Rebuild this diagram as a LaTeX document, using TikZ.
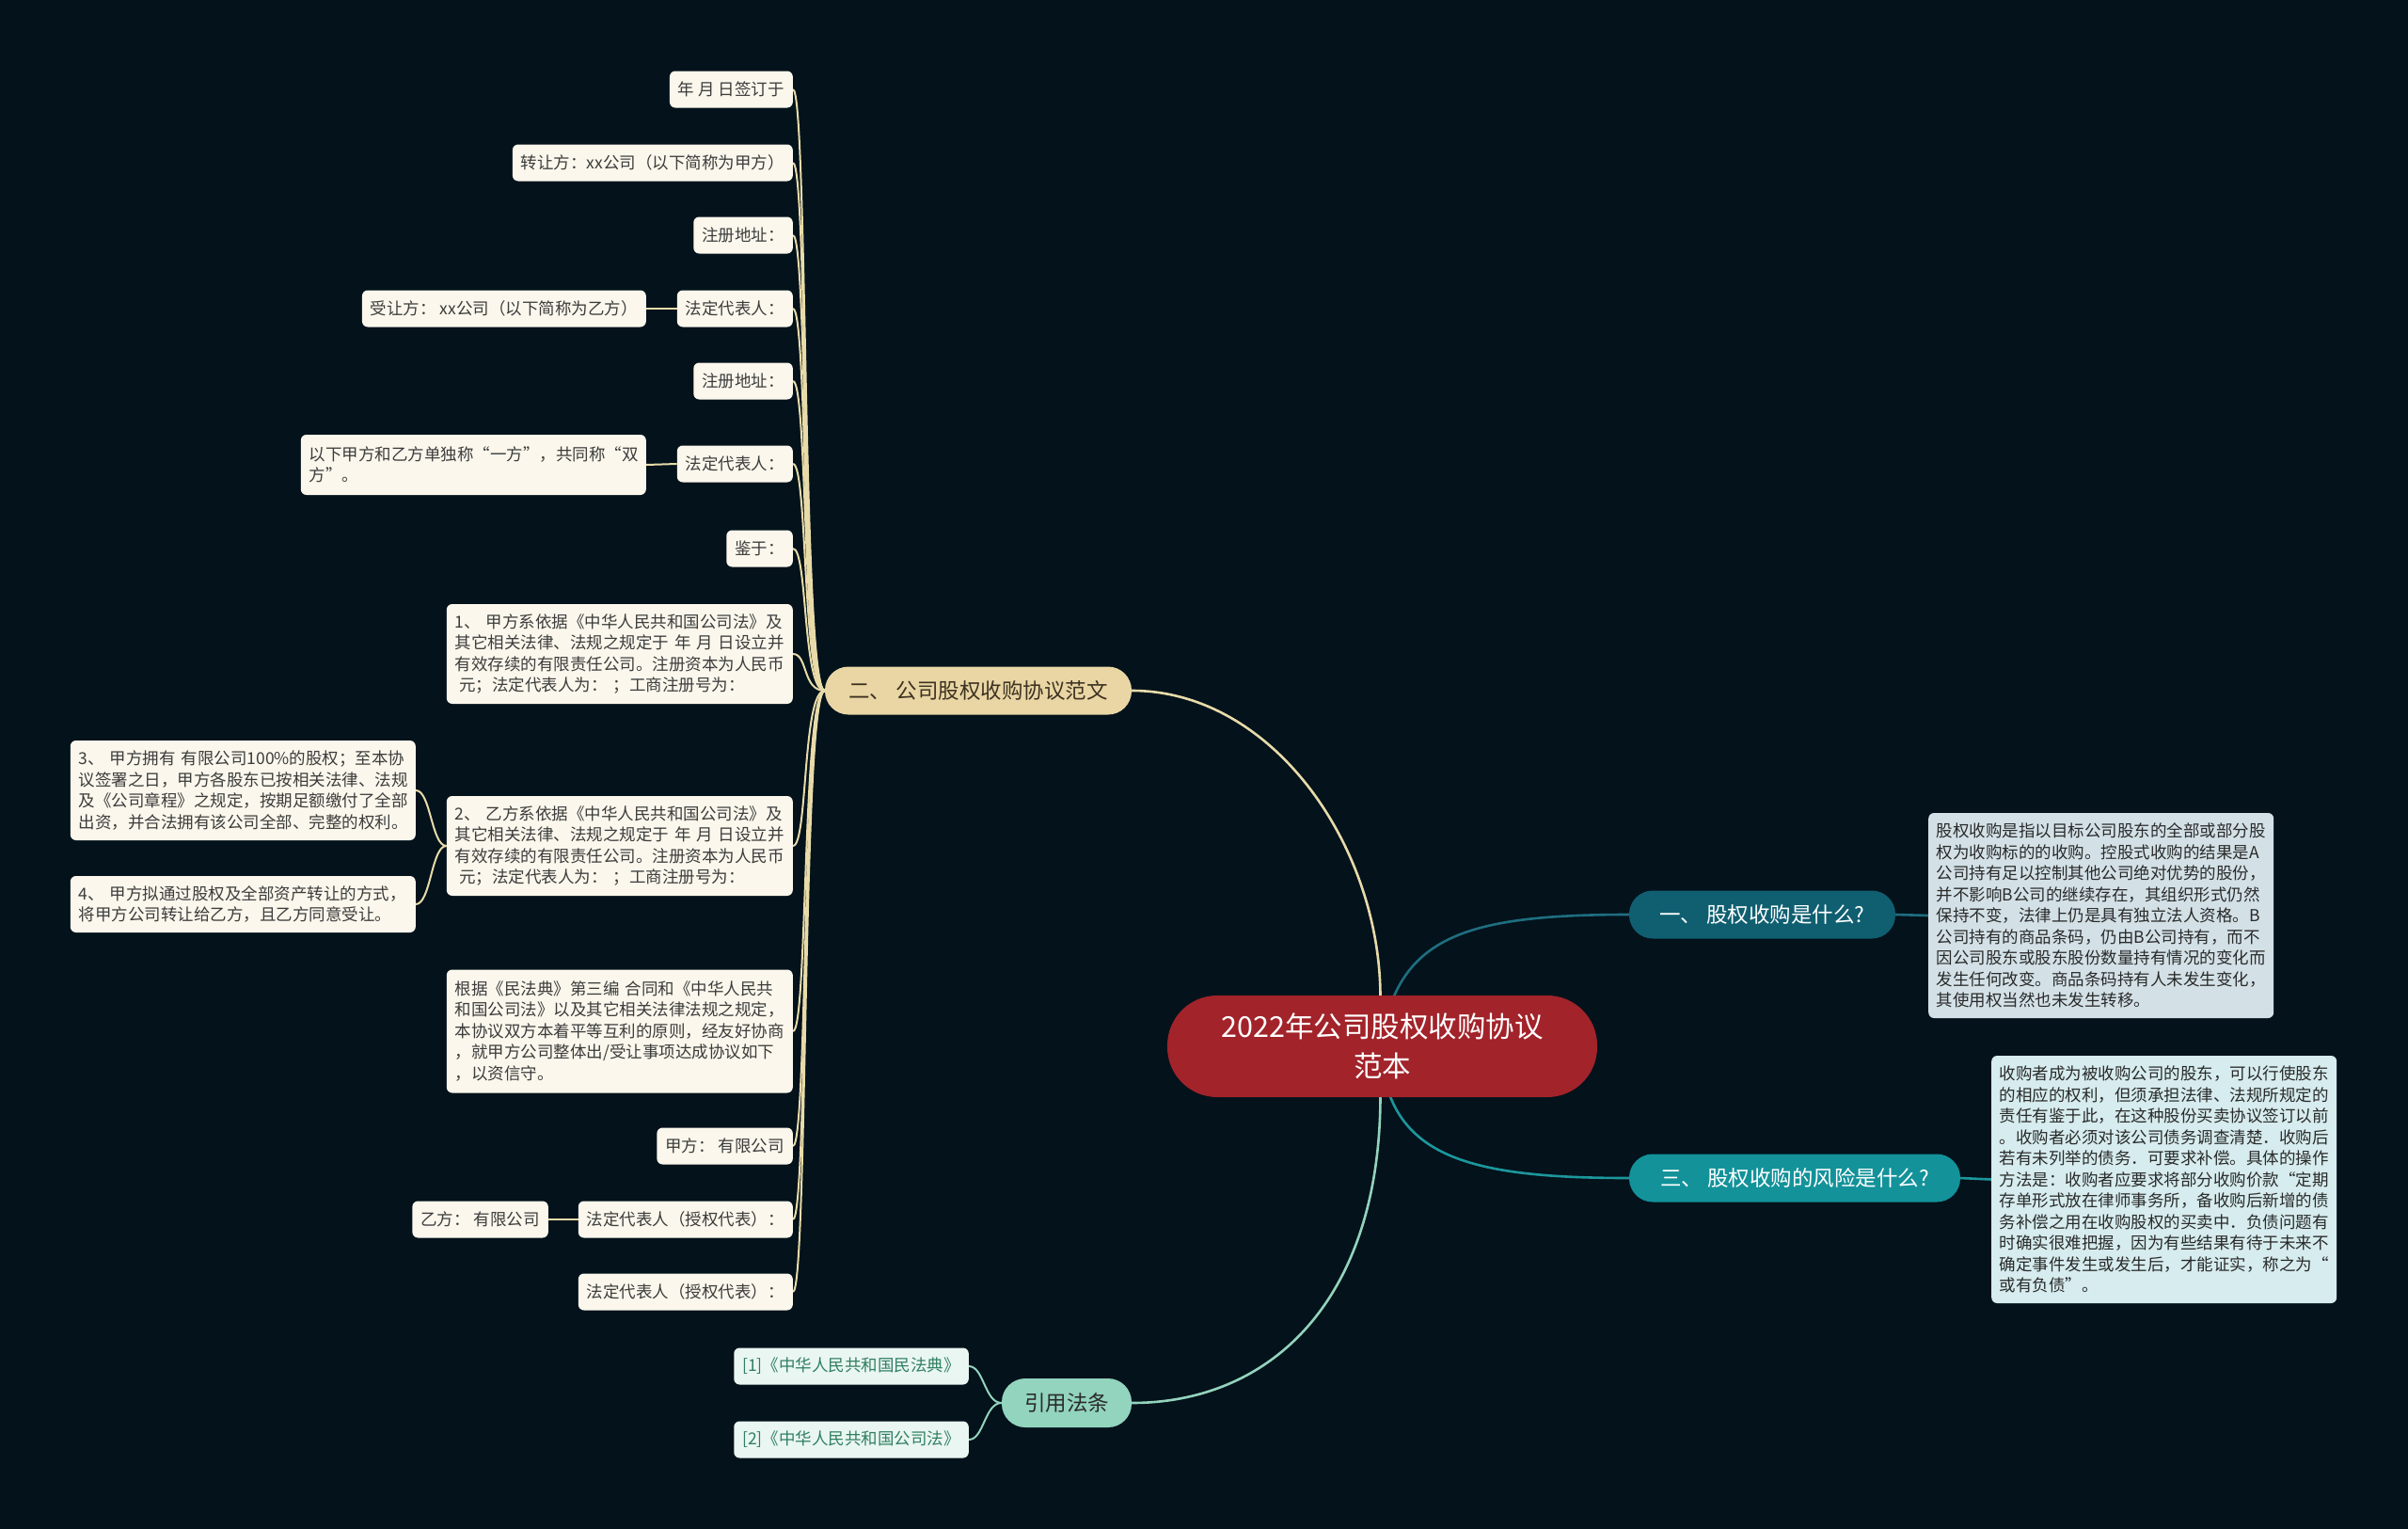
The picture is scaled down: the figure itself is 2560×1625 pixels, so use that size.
\documentclass[tikz,border=0pt]{standalone}
\usepackage{fontspec}
\setmainfont{Noto Sans CJK SC}
\usetikzlibrary{calc}
\definecolor{bgc}{HTML}{03121B}
\definecolor{cream}{HTML}{FBF7EC}
\definecolor{leaftxt}{HTML}{3C3C3C}
\definecolor{tanln}{HTML}{E8DBA9}
\definecolor{tanfill}{HTML}{E9D6A4}
\definecolor{btwotxt}{HTML}{3D3222}
\definecolor{cred}{HTML}{A2232A}
\definecolor{tonefill}{HTML}{0F5F71}
\definecolor{toneln}{HTML}{1F6E80}
\definecolor{tthreefill}{HTML}{13929A}
\definecolor{tthreeln}{HTML}{1C979C}
\definecolor{donefill}{HTML}{D3E1E7}
\definecolor{dthreefill}{HTML}{D6ECEE}
\definecolor{mintfill}{HTML}{92D4BD}
\definecolor{mintln}{HTML}{93D3BD}
\definecolor{reffill}{HTML}{EAF6F1}
\definecolor{reftxt}{HTML}{2F7F63}
\definecolor{dtxt}{HTML}{2A2A2A}
\pgfdeclarelayer{back}
\pgfdeclarelayer{lines}
\pgfsetlayers{back,lines,main}
\begin{document}
\begin{tikzpicture}[x=1pt,y=-1pt,
  leaf/.style={fill=cream, text=leaftxt, rounded corners=6, inner xsep=9, inner ysep=6,
    font=\fontsize{17.5}{22.5}\selectfont, align=left, minimum height=39},
  reftag/.style={leaf, fill=reffill, text=reftxt},
  desc/.style={rounded corners=6, inner xsep=8.5, inner ysep=6, text=dtxt,
    font=\fontsize{17.5}{22.5}\selectfont, align=left, text width=350},
  pillnode/.style={inner sep=0, align=center, font=\fontsize{22.5}{27}\selectfont,
    minimum height=51, rounded corners=25},
  tanmain/.style={draw=tanln, line width=2.6},
  tanleaf/.style={draw=tanln, line width=2},
  mintmain/.style={draw=mintln, line width=2.6},
  mintleaf/.style={draw=mintln, line width=2},
  tonemain/.style={draw=toneln, line width=2.6},
  tthreemain/.style={draw=tthreeln, line width=2.6}
]
\begin{pgfonlayer}{back}
\fill[bgc] (0,0) rectangle (2560,1625);
\end{pgfonlayer}
\useasboundingbox (0,0) rectangle (2560,1625);

% central node
\node[fill=cred, text=white, inner sep=0, align=center, minimum width=457, minimum height=108,
  rounded corners=53, font=\fontsize{30.5}{42}\selectfont] (c) at (1469.5,1112) {2022年公司股权收购协议\\范本};

% branches
\node[pillnode, fill=tanfill, text=btwotxt, minimum width=326] (b2) at (1040,734) {二、 公司股权收购协议范文};
\node[pillnode, fill=tonefill, text=white, minimum width=283] (b1) at (1873.5,972) {一、 股权收购是什么?};
\node[pillnode, fill=tthreefill, text=white, minimum width=352] (b3) at (1908,1252) {三、 股权收购的风险是什么?};
\node[pillnode, fill=mintfill, text=dtxt, minimum width=138, minimum height=52, rounded corners=25] (bref) at (1134,1491) {引用法条};

% descriptions on the right
\node[desc, fill=donefill, anchor=west, minimum height=218] (d1) at (2050,973) {股权收购是指以目标公司股东的全部或部分股\\权为收购标的的收购。控股式收购的结果是A\\公司持有足以控制其他公司绝对优势的股份，\\并不影响B公司的继续存在，其组织形式仍然\\保持不变，法律上仍是具有独立法人资格。B\\公司持有的商品条码，仍由B公司持有，而不\\因公司股东或股东股份数量持有情况的变化而\\发生任何改变。商品条码持有人未发生变化，\\其使用权当然也未发生转移。};
\node[desc, fill=dthreefill, anchor=west, minimum height=263] (d3) at (2117,1253.5) {收购者成为被收购公司的股东，可以行使股东\\的相应的权利，但须承担法律、法规所规定的\\责任有鉴于此，在这种股份买卖协议签订以前\\。收购者必须对该公司债务调查清楚．收购后\\若有未列举的债务．可要求补偿。具体的操作\\方法是：收购者应要求将部分收购价款“定期\\存单形式放在律师事务所，备收购后新增的债\\务补偿之用在收购股权的买卖中．负债问题有\\时确实很难把握，因为有些结果有待于未来不\\确定事件发生或发生后，才能证实，称之为“\\或有负债”。};

% references
\node[reftag, anchor=east] (r1) at (1030,1452) {[1]《中华人民共和国民法典》};
\node[reftag, anchor=east] (r2) at (1030,1530) {[2]《中华人民共和国公司法》};

% left leaves
\node[leaf, anchor=east] (n1) at (843,95) {年 月 日签订于};
\node[leaf, anchor=east] (n2) at (843,173) {转让方：xx公司（以下简称为甲方）};
\node[leaf, anchor=east] (n3) at (843,250) {注册地址：};
\node[leaf, anchor=east] (n4) at (843,328) {法定代表人：};
\node[leaf, anchor=east] (n4a) at (687,328) {受让方： xx公司（以下简称为乙方）};
\node[leaf, anchor=east] (n5) at (843,405) {注册地址：};
\node[leaf, anchor=east] (n6) at (843,493) {法定代表人：};
\node[leaf, anchor=east, text width=349, minimum height=64] (n6a) at (687,494) {以下甲方和乙方单独称“一方”，共同称“双\\方”。};
\node[leaf, anchor=east] (n7) at (843,583) {鉴于：};
\node[leaf, anchor=east, text width=350, minimum height=106] (n8) at (843,695) {1、 甲方系依据《中华人民共和国公司法》及\\其它相关法律、法规之规定于 年 月 日设立并\\有效存续的有限责任公司。注册资本为人民币\\\hspace*{0.25em}元；法定代表人为： ；工商注册号为：};
\node[leaf, anchor=east, text width=350, minimum height=106] (n9) at (843,899) {2、 乙方系依据《中华人民共和国公司法》及\\其它相关法律、法规之规定于 年 月 日设立并\\有效存续的有限责任公司。注册资本为人民币\\\hspace*{0.25em}元；法定代表人为： ；工商注册号为：};
\node[leaf, anchor=east, text width=349, minimum height=106] (n9a) at (442,840) {3、 甲方拥有 有限公司100\%的股权；至本协\\议签署之日，甲方各股东已按相关法律、法规\\及《公司章程》之规定，按期足额缴付了全部\\出资，并合法拥有该公司全部、完整的权利。};
\node[leaf, anchor=east, text width=349, minimum height=60] (n9b) at (442,961) {4、 甲方拟通过股权及全部资产转让的方式，\\将甲方公司转让给乙方，且乙方同意受让。};
\node[leaf, anchor=east, text width=350, minimum height=131] (n10) at (843,1096) {根据《民法典》第三编 合同和《中华人民共\\和国公司法》以及其它相关法律法规之规定，\\本协议双方本着平等互利的原则，经友好协商\\，就甲方公司整体出/受让事项达成协议如下\\，以资信守。};
\node[leaf, anchor=east] (n11) at (843,1218) {甲方：  有限公司};
\node[leaf, anchor=east] (n12) at (843,1296) {法定代表人（授权代表）：};
\node[leaf, anchor=east] (n12a) at (583,1296) {乙方：  有限公司};
\node[leaf, anchor=east] (n13) at (843,1373) {法定代表人（授权代表）：};

% connectors
\begin{pgfonlayer}{lines}
\draw[tanmain] ($(c.north)+(-2,2)$) .. controls +(0,-160) and +(150,0) .. (b2.east);
\draw[mintmain] ($(c.south)+(-2,-2)$) .. controls +(0,215) and +(150,0) .. (bref.east);
\draw[tonemain] ($(c.north)+(12,2)$) .. controls +(30,-70) and +(-150,0) .. (b1.west);
\draw[tthreemain] ($(c.south)+(8,-2)$) .. controls +(27,70) and +(-150,0) .. (b3.west);
\draw[tonemain] (b1.east) -- (d1.west);
\draw[tthreemain] (b3.east) -- (d3.west);
\foreach \n in {n1,n2,n3,n4,n5,n6,n7,n8,n9,n10,n11,n12,n13}
  \draw[tanleaf] (\n.east) .. controls +(16,0) and +(-24,0) .. (b2.west);
\draw[tanleaf] (n4a.east) -- (n4.west);
\draw[tanleaf] (n6a.east) -- (n6.west);
\draw[tanleaf] (n12a.east) -- (n12.west);
\draw[tanleaf] (n9a.east) .. controls +(16,0) and +(-16,0) .. (n9.west);
\draw[tanleaf] (n9b.east) .. controls +(16,0) and +(-16,0) .. (n9.west);
\draw[mintleaf] (r1.east) .. controls +(16,0) and +(-18,0) .. (bref.west);
\draw[mintleaf] (r2.east) .. controls +(16,0) and +(-18,0) .. (bref.west);
\end{pgfonlayer}
\end{tikzpicture}
\end{document}
